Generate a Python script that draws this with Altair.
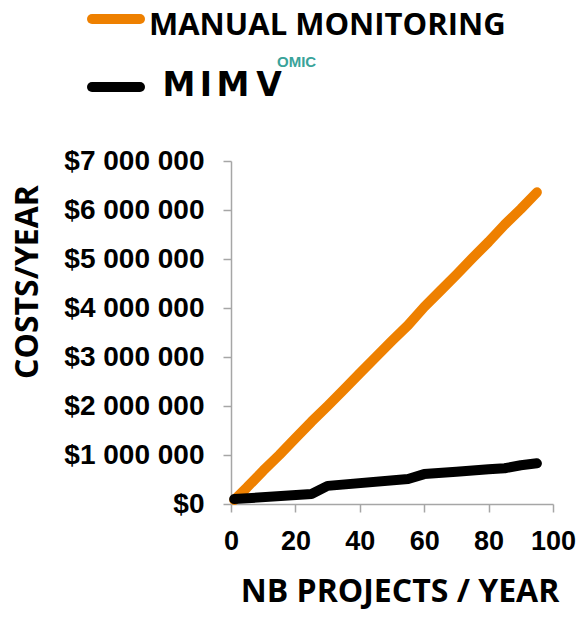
import altair as alt
import pandas as pd

# ---- data ----
manual_x = [1, 5, 10, 15, 20, 25, 30, 35, 40, 45, 50, 55, 60, 65, 70, 75, 80, 85, 90, 95]
manual_cost = [80000, 340000, 680000, 1000000, 1340000, 1680000, 2000000, 2330000, 2670000,
               3000000, 3330000, 3650000, 4020000, 4350000, 4680000, 5020000, 5350000,
               5700000, 6020000, 6360000]
mimo_x = [1, 25, 30, 55, 60, 70, 80, 85, 90, 95]
mimo_cost = [100000, 205000, 370000, 510000, 610000, 660000, 710000, 730000, 790000, 830000]

series_names = ["MANUAL MONITORING", "MIMOMIC"]
colors = ["#EE8000", "#000000"]
x_ticks = [0, 20, 40, 60, 80, 100]
y_ticks = [0, 1000000, 2000000, 3000000, 4000000, 5000000, 6000000, 7000000]

df = pd.concat([
    pd.DataFrame({"x": manual_x, "cost": manual_cost, "series": series_names[0]}),
    pd.DataFrame({"x": mimo_x, "cost": mimo_cost, "series": series_names[1]}),
])

TITLE_FONT = "Open Sans"
LABEL_FONT = "Liberation Sans"

PAD_L = 223
PAD_T = 153

lines = alt.Chart(df).mark_line(strokeWidth=10, strokeCap="round", strokeJoin="round").encode(
    x=alt.X("x:Q", scale=alt.Scale(domain=[0, 100], nice=False),
            axis=alt.Axis(values=x_ticks, title=None, grid=False, labelFontSize=27,
                          labelFont=LABEL_FONT, labelFontWeight="bold", labelColor="#000",
                          labelPadding=16, tickSize=8, tickColor="#a6a6a6", labelFlush=False,
                          labelOverlap=False,
                          domainColor="#a6a6a6", domainWidth=1.5, tickWidth=1.5)),
    y=alt.Y("cost:Q", scale=alt.Scale(domain=[0, 7000000], nice=False),
            axis=alt.Axis(values=y_ticks, title=None, grid=False, labelFontSize=28,
                          labelFont=LABEL_FONT, labelFontWeight="bold", labelColor="#000",
                          labelPadding=19, tickSize=8, tickColor="#a6a6a6", labelFlush=False,
                          labelOverlap=False,
                          domainColor="#a6a6a6", domainWidth=1.5, tickWidth=1.5,
                          labelExpr='datum.value == 0 ? "$0" : "$" + format(datum.value / 1000000, "d") + " 000 000"')),
    color=alt.Color("series:N", scale=alt.Scale(domain=series_names, range=colors), legend=None),
    order=alt.Order("x:Q"),
)

base = alt.Chart(pd.DataFrame({"a": [0]}))

# axis titles
y_title = base.mark_text(text="COSTS/YEAR", font=TITLE_FONT, fontWeight="bold", fontSize=32,
                         angle=270, align="center", baseline="middle", color="#000").encode(
    x=alt.value(-203), y=alt.value(121))
x_title = base.mark_text(text="NB PROJECTS / YEAR", font=TITLE_FONT, fontWeight="bold", fontSize=32,
                         align="center", baseline="alphabetic", color="#000").encode(
    x=alt.value(169), y=alt.value(441))

# legend
leg_orange = base.mark_rule(strokeWidth=10, strokeCap="round", color=colors[0]).encode(
    x=alt.value(-139), x2=alt.value(-91), y=alt.value(-142))
leg_orange_txt = base.mark_text(text=series_names[0], font=TITLE_FONT, fontWeight="bold", fontSize=31,
                                align="left", baseline="alphabetic", color="#000").encode(
    x=alt.value(-82), y=alt.value(-126))
leg_black = base.mark_rule(strokeWidth=10, strokeCap="round", color=colors[1]).encode(
    x=alt.value(-139), x2=alt.value(-91), y=alt.value(-74))

logo_letters = ["M", "I", "M", "V"]
logo_parts = []
for letter, xpos in zip(logo_letters, [-52, -25, 2, 38]):
    logo_parts.append(base.mark_text(text=letter, font="DejaVu Sans", fontWeight="bold", fontSize=33,
                                     align="center", baseline="alphabetic", color="#000").encode(
        x=alt.value(xpos), y=alt.value(-65)))
omic = base.mark_text(text="OMIC", font=LABEL_FONT, fontWeight="bold", fontSize=15,
                      align="left", baseline="alphabetic", color="#3AA39A").encode(
    x=alt.value(46), y=alt.value(-94))

chart = alt.layer(lines, y_title, x_title, leg_orange, leg_orange_txt, leg_black, omic, *logo_parts).properties(
    width=322, height=343,
    autosize=alt.AutoSizeParams(type="none"),
    padding={"left": PAD_L, "top": PAD_T, "right": 24, "bottom": 107},
).configure_view(stroke=None)

chart.save("out.html", embed_options={"renderer": "svg", "actions": False})
